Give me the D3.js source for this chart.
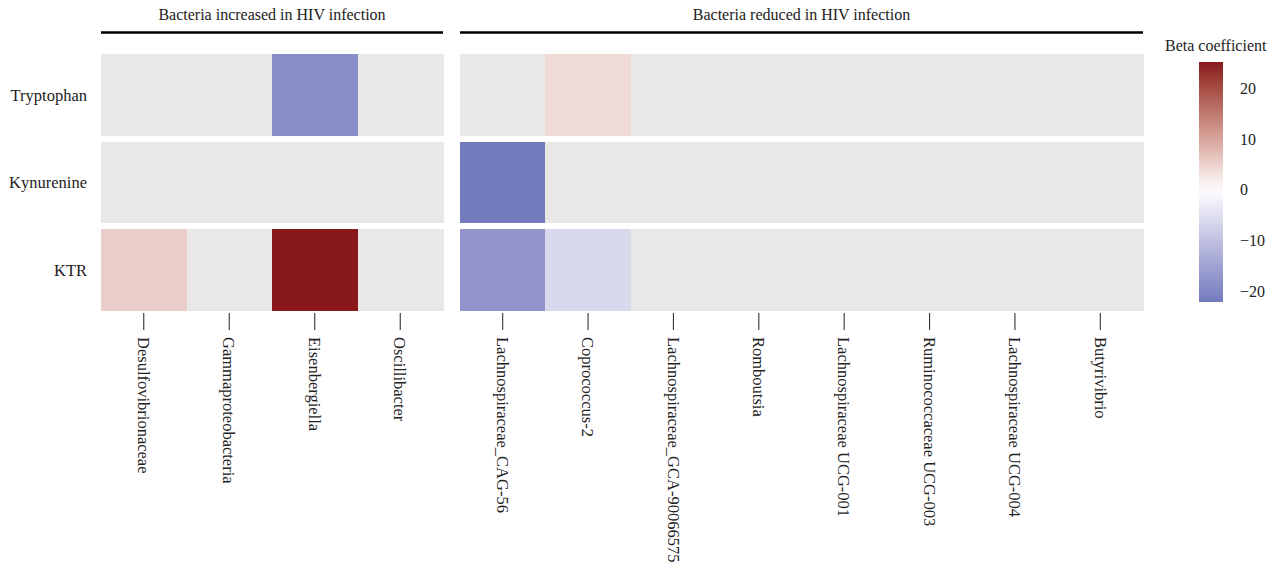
<!DOCTYPE html>
<html>
<head>
<meta charset="utf-8">
<script src="https://cdn.jsdelivr.net/npm/d3@7"></script>
<style>
  html, body { margin: 0; padding: 0; background: #fff; }
  svg text { font-family: "Liberation Serif", "DejaVu Serif", serif; fill: #222; }
</style>
</head>
<body>
<svg id="chart" width="1277" height="567"></svg>
<script>
// Metabolites (rows)
const metabolites = ["Tryptophan", "Kynurenine", "KTR"];

// Genera grouped by direction of change in HIV infection
const increasedTaxa = ["Desulfovibrionaceae", "Gammaproteobacteria", "Eisenbergiella", "Oscillibacter"];
const reducedTaxa = ["Lachnospiraceae_CAG-56", "Coprococcus-2", "Lachnospiraceae_GCA-90066575",
  "Romboutsia", "Lachnospiraceae UCG-001", "Ruminococcaceae UCG-003",
  "Lachnospiraceae UCG-004", "Butyrivibrio"];

const groupTitles = ["Bacteria increased in HIV infection", "Bacteria reduced in HIV infection"];

// Beta coefficients (null = not significant); one array per metabolite row
const tryptophanBeta = [null, null, -18.5, null, null, 4, null, null, null, null, null, null];
const kynurenineBeta = [null, null, null, null, -22.1, null, null, null, null, null, null, null];
const ktrBeta        = [5.5, null, 25.2, null, -17.5, -6, null, null, null, null, null, null];

const legendTitle = "Beta coefficient";
const legendTicks = [-20, -10, 0, 10, 20];

const allTaxa = increasedTaxa.concat(reducedTaxa);
const betaRows = [tryptophanBeta, kynurenineBeta, ktrBeta];
const cells = [];
metabolites.forEach((m, i) => {
  betaRows[i].forEach((v, j) => cells.push({ metabolite: m, taxon: allTaxa[j], value: v }));
});

const svg = d3.select("#chart");
const naColor = "#EAE8E7";

const values = cells.filter(d => d.value !== null).map(d => d.value);
const vMin = d3.min(values), vMax = d3.max(values);
const color = d3.scaleLinear()
  .domain([vMin, 0, vMax])
  .range(["#737BBD", "#FFFFFF", "#88181C"])
  .interpolate(d3.interpolateLab);

const y = d3.scaleBand().domain(metabolites).range([54, 311]).paddingInner(0.07);

const panels = [
  { taxa: increasedTaxa, title: groupTitles[0], x: d3.scaleBand().domain(increasedTaxa).range([101, 443]) },
  { taxa: reducedTaxa, title: groupTitles[1], x: d3.scaleBand().domain(reducedTaxa).range([460, 1143]) }
];

panels.forEach(p => {
  const g = svg.append("g");
  const [x0, x1] = p.x.range();

  // group header and rule
  g.append("text")
    .attr("x", (x0 + x1) / 2).attr("y", 20)
    .attr("text-anchor", "middle")
    .style("font-size", "16px")
    .text(p.title);
  g.append("line")
    .attr("x1", x0).attr("x2", x1)
    .attr("y1", 32.5).attr("y2", 32.5)
    .attr("stroke", "#000").attr("stroke-width", 2.5);

  // tiles
  g.selectAll("rect.tile")
    .data(cells.filter(d => p.taxa.includes(d.taxon)))
    .join("rect")
    .attr("class", "tile")
    .attr("x", d => p.x(d.taxon))
    .attr("y", d => y(d.metabolite))
    .attr("width", p.x.bandwidth() + 0.5)
    .attr("height", y.bandwidth())
    .attr("shape-rendering", "crispEdges")
    .attr("fill", d => d.value === null ? naColor : color(d.value));

  // bottom axis with rotated labels
  const axis = d3.axisBottom(p.x).tickSize(17).tickPadding(7);
  const ag = g.append("g").attr("transform", "translate(0,313)").call(axis);
  ag.select(".domain").remove();
  ag.selectAll(".tick line").attr("stroke", "#333").attr("stroke-width", 1.1);
  ag.selectAll(".tick text")
    .attr("transform", "rotate(90)")
    .attr("x", 24).attr("y", 0).attr("dy", "0.35em")
    .attr("text-anchor", "start")
    .style("font-size", "16.5px")
    .style("font-family", "'Liberation Serif', serif")
    .attr("fill", "#2a2a2a");
});

// row labels
svg.append("g").selectAll("text")
  .data(metabolites)
  .join("text")
  .attr("x", 87)
  .attr("y", d => y(d) + y.bandwidth() / 2)
  .attr("dy", "0.35em")
  .attr("text-anchor", "end")
  .style("font-size", "16.5px")
  .text(d => d);

// colour bar legend
const barX = 1199, barW = 24, barTop = 62, barBottom = 302;
const legendScale = d3.scaleLinear().domain([vMin, vMax]).range([barBottom, barTop]);
const defs = svg.append("defs");
const grad = defs.append("linearGradient")
  .attr("id", "betaGrad").attr("x1", 0).attr("x2", 0).attr("y1", 1).attr("y2", 0);
d3.range(0, 1.0001, 0.05).forEach(t => {
  grad.append("stop")
    .attr("offset", t)
    .attr("stop-color", color(vMin + t * (vMax - vMin)));
});
svg.append("rect")
  .attr("x", barX).attr("y", barTop)
  .attr("width", barW).attr("height", barBottom - barTop)
  .attr("fill", "url(#betaGrad)");

svg.append("text")
  .attr("x", 1165).attr("y", 51)
  .style("font-size", "16px")
  .text(legendTitle);

svg.append("g").selectAll("text")
  .data(legendTicks)
  .join("text")
  .attr("x", 1240)
  .attr("y", d => legendScale(d))
  .attr("dy", "0.35em")
  .style("font-size", "16px")
  .text(d => d3.format("")(d).replace("-", "\u2212"));
</script>
</body>
</html>
